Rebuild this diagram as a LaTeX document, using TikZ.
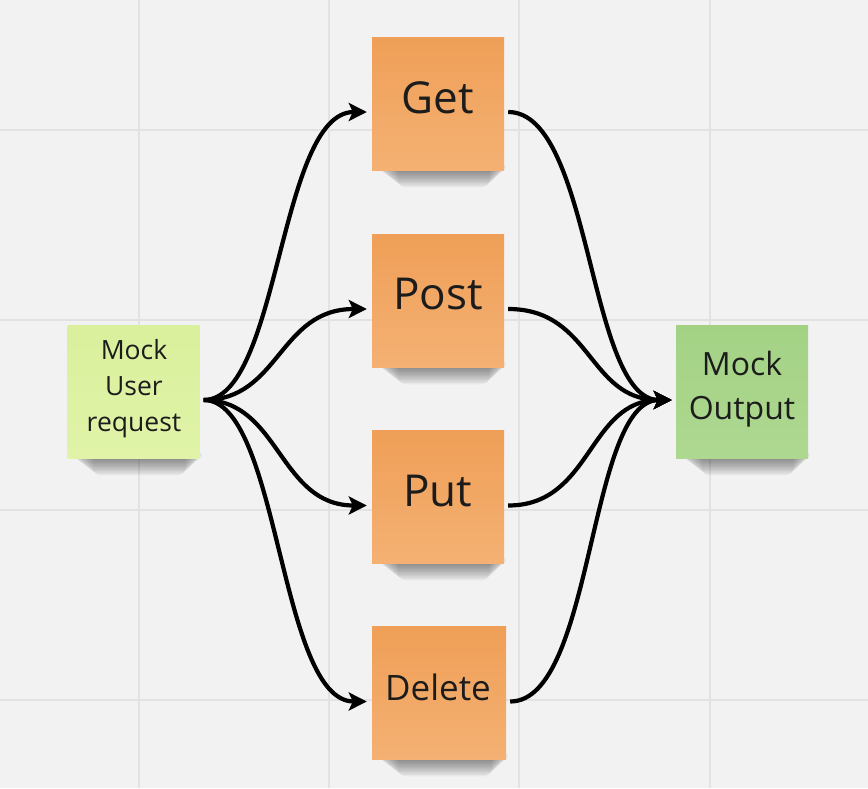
\documentclass[tikz,border=0pt]{standalone}
\usepackage{fontspec}
\setmainfont{Open Sans}
\usetikzlibrary{arrows.meta,calc}
\definecolor{bg}{HTML}{F2F2F2}
\definecolor{gridc}{HTML}{E2E2E2}
\definecolor{orTop}{HTML}{EF9F57}
\definecolor{orBot}{HTML}{F4B173}
\definecolor{ylTop}{HTML}{DAF09C}
\definecolor{ylBot}{HTML}{E0F3A8}
\definecolor{grTop}{HTML}{A3D285}
\definecolor{grBot}{HTML}{AED890}
\definecolor{ink}{HTML}{1C1C1C}
\tikzset{
  note/.style={draw=none, minimum width=132pt, minimum height=133pt, inner sep=0pt},
  orangenote/.style={note, top color=orTop, bottom color=orBot},
  yellownote/.style={note, top color=ylTop, bottom color=ylBot},
  greennote/.style={note, top color=grTop, bottom color=grBot},
  notetext/.style={text=ink, align=center, inner sep=0pt},
  flow/.style={line width=4.2pt, black, -{Stealth[length=18pt,width=18pt,inset=4pt]}},
  gridline/.style={line width=1.5pt, gridc}
}
\begin{document}
\begin{tikzpicture}[x=1pt,y=-1pt]
\useasboundingbox (0,0) rectangle (868,788);
\fill[bg] (0,0) rectangle (868,788);
% grid
\foreach \gx in {139,329,519,710} \draw[gridline] (\gx,0) -- (\gx,788);
\foreach \gy in {130,320,510,700} \draw[gridline] (0,\gy) -- (868,\gy);
% shadows
\foreach \l/\r/\b in {67/200/458, 676/808/458, 372/504/170, 372/504/367, 372/504/563, 372/506/759} {
  \foreach \k in {0,...,11} {
    \fill[black,opacity=0.038,rounded corners=8pt] (\l+6+\k*1.8, \b-8) rectangle (\r+2-\k*1.5, \b+2+\k*1.4);
  }
}
% notes
\node[yellownote] (req) at (133.5,391.5) {};
\node[greennote] (out) at (742,391.5) {};
\node[orangenote] (get) at (438,103.5) {};
\node[orangenote] (post) at (438,300.5) {};
\node[orangenote] (put) at (438,497) {};
\node[orangenote, minimum width=134pt] (del) at (439,693) {};
% texts
\node[notetext, font=\fontsize{26.5}{36}\selectfont] (reqT) at (134,389) {Mock\\User\\request};
\node[notetext, font=\fontsize{32}{44}\selectfont] (outT) at (742,389) {Mock\\Output};
\node[notetext, font=\fontsize{44}{50}\selectfont] (getT) at (438,97.5) {Get};
\node[notetext, font=\fontsize{44}{50}\selectfont] (postT) at (438,294.5) {Post};
\node[notetext, font=\fontsize{44}{50}\selectfont] (putT) at (438,491) {Put};
\node[notetext, font=\fontsize{35}{42}\selectfont] (delT) at (438,687) {Delete};
% connectors in
\foreach \t in {get,post,put,del} {
  \draw[flow] ([xshift=4pt,yshift=-8.5pt]req.east) .. controls +(76,0) and +(-88,0) .. ([xshift=-5pt,yshift=-8.5pt]\t.west);
}
% connectors out
\foreach \s in {get,post,put,del} {
  \draw[flow] ([xshift=4pt,yshift=-8.5pt]\s.east) .. controls +(84,0) and +(-84,0) .. ([xshift=-4pt,yshift=-8.5pt]out.west);
}
\end{tikzpicture}
\end{document}
